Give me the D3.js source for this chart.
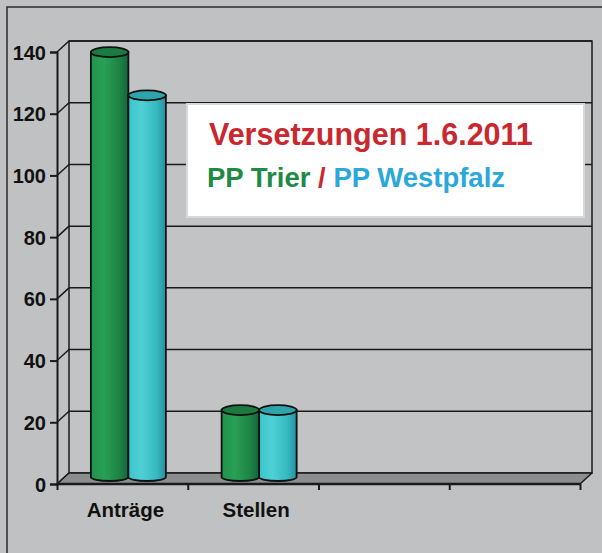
<!DOCTYPE html>
<html><head><meta charset="utf-8">
<script src="https://cdn.jsdelivr.net/npm/d3@7"></script>
<style>html,body{margin:0;padding:0;background:#c0c1c2;}svg{display:block;}</style>
</head><body>
<script>
const categories = ["Anträge", "Stellen", "", ""];
const seriesNames = ["PP Trier", "PP Westpfalz"];
const trier = [138, 22, null, null];
const westpfalz = [124, 22, null, null];
const yTicks = [0, 20, 40, 60, 80, 100, 120, 140];
const titleText = "Versetzungen 1.6.2011";

const W = 602, H = 553;
const svg = d3.select("body").append("svg").attr("width", W).attr("height", H);
const font = "'Liberation Sans', Arial, sans-serif";
const dx = 12, dy = -11;

const defs = svg.append("defs");
function grad(id, stops) {
  const g = defs.append("linearGradient").attr("id", id).attr("x1", "0").attr("x2", "1").attr("y1", "0").attr("y2", "0");
  stops.forEach(s => g.append("stop").attr("offset", s[0]).attr("stop-color", s[1]));
}
grad("gGreen", [[0, "#22924c"], [0.35, "#28a056"], [0.75, "#1d8444"], [1, "#15653a"]]);
grad("gCyan", [[0, "#3cc4cc"], [0.35, "#4fd0d6"], [0.75, "#36b9c1"], [1, "#2790a0"]]);
const colors = [{body: "url(#gGreen)", top: "#1b7a40"}, {body: "url(#gCyan)", top: "#2fa4ad"}];

svg.append("rect").attr("width", W).attr("height", H).attr("fill", "#c0c1c2");
svg.append("path").attr("d", `M7,${H} V7 H${W}`).attr("fill", "none").attr("stroke", "#2a2a2a").attr("stroke-width", 1.5);

const x = d3.scaleBand().domain(d3.range(categories.length)).range([57, 580]).paddingInner(0).paddingOuter(0);
const y = d3.scaleLinear().domain([0, 140]).range([484, 52]);

svg.append("rect").attr("x", 57 + dx).attr("y", y(140) + dy).attr("width", 580 - 57).attr("height", y(0) - y(140))
  .attr("fill", "#c2c3c4").attr("stroke", "#1a1a1a").attr("stroke-width", 1.5);
svg.append("g").selectAll("line").data(yTicks.filter(t => t > 0)).join("line")
  .attr("x1", 57 + dx).attr("x2", 580 + dx).attr("y1", d => y(d) + dy).attr("y2", d => y(d) + dy)
  .attr("stroke", "#1a1a1a").attr("stroke-width", 1.5);
svg.append("g").selectAll("line").data(yTicks).join("line")
  .attr("x1", 57).attr("x2", 57 + dx).attr("y1", d => y(d)).attr("y2", d => y(d) + dy)
  .attr("stroke", "#1a1a1a").attr("stroke-width", 1.5);
svg.append("path").attr("d", `M57,${y(0)} L${57 + dx},${y(0) + dy} L${580 + dx},${y(0) + dy} L580,${y(0)} Z`)
  .attr("fill", "#8c8d8e").attr("stroke", "#1a1a1a").attr("stroke-width", 1.5).attr("stroke-linejoin", "round");
svg.append("line").attr("x1", 57).attr("x2", 580).attr("y1", y(0)).attr("y2", y(0)).attr("stroke", "#1a1a1a").attr("stroke-width", 2.5);

const yAxis = d3.axisLeft(y).tickValues(yTicks).tickSize(7).tickPadding(4);
const ga = svg.append("g").attr("transform", "translate(57,0)").call(yAxis);
ga.select(".domain").attr("stroke", "#1a1a1a").attr("stroke-width", 2);
ga.selectAll(".tick line").attr("stroke", "#1a1a1a").attr("stroke-width", 2);
ga.selectAll(".tick text").attr("font-family", font).attr("font-weight", "bold").attr("font-size", 20).attr("fill", "#111")
  .attr("dy", "0.35em");

const xAxis = d3.axisBottom(d3.scaleLinear().domain([0, categories.length]).range([57, 580]))
  .tickValues(d3.range(categories.length + 1)).tickSize(6).tickFormat("");
const gx = svg.append("g").attr("transform", `translate(0,${y(0)})`).call(xAxis);
gx.select(".domain").remove();
gx.selectAll(".tick line").attr("stroke", "#1a1a1a").attr("stroke-width", 2);
svg.append("g").selectAll("text").data(categories).join("text")
  .attr("x", (d, i) => x(i) + x.bandwidth() / 2 + 3).attr("y", 517)
  .attr("text-anchor", "middle").attr("font-family", font).attr("font-weight", "bold").attr("font-size", 20.5).attr("fill", "#111")
  .text(d => d);

const groupW = 75;
const xs = d3.scaleBand().domain([0, 1]).range([0, groupW]);
const yb = v => y(v) + dy / 2 - 0.5;
const ry = 5;
const data = [];
[trier, westpfalz].forEach((arr, s) => arr.forEach((v, i) => { if (v != null) data.push({i, s, v}); }));
const bars = svg.append("g").selectAll("g").data(data).join("g");
bars.each(function(d) {
  const g = d3.select(this);
  const x0 = x(d.i) + x.bandwidth() / 2 + dx / 2 - groupW / 2 + xs(d.s);
  const w = xs.bandwidth();
  const rx = w / 2;
  const yt = yb(d.v), y0 = yb(0) - 1;
  g.append("path")
    .attr("d", `M${x0},${yt} L${x0},${y0} A${rx},${ry - 1} 0 0 0 ${x0 + w},${y0} L${x0 + w},${yt} Z`)
    .attr("fill", colors[d.s].body).attr("stroke", "#111").attr("stroke-width", 1.8);
  g.append("ellipse").attr("cx", x0 + rx).attr("cy", yt).attr("rx", rx).attr("ry", ry)
    .attr("fill", colors[d.s].top).attr("stroke", "#111").attr("stroke-width", 1.8);
});

svg.append("rect").attr("x", 186).attr("y", 103).attr("width", 399).attr("height", 115).attr("fill", "#d8d8d8");
svg.append("rect").attr("x", 188).attr("y", 105).attr("width", 395).attr("height", 111).attr("fill", "#ffffff");
svg.append("text").attr("x", 209).attr("y", 145).attr("font-family", font).attr("font-weight", "bold").attr("font-size", 30.5)
  .attr("fill", "#c9282e").text(titleText);
const t2 = svg.append("text").attr("x", 207).attr("y", 187).attr("font-family", font).attr("font-weight", "bold").attr("font-size", 27.5);
t2.append("tspan").attr("fill", "#1e8a46").text(seriesNames[0]);
t2.append("tspan").attr("fill", "#c9282e").text(" / ");
t2.append("tspan").attr("fill", "#2aa8dc").text(seriesNames[1]);
</script>
</body></html>
